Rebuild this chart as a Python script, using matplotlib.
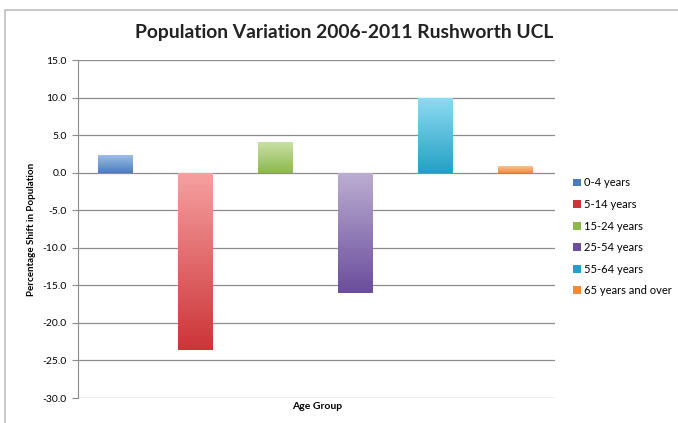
import matplotlib.pyplot as plt
import numpy as np
from matplotlib.colors import LinearSegmentedColormap
from matplotlib.patches import Rectangle, Patch

plt.rcParams['font.family'] = ['Lato', 'DejaVu Sans']

# data
groups = ["0-4 years", "5-14 years", "15-24 years", "25-54 years",
          "55-64 years", "65 years and over"]
shift = [2.3, -23.6, 4.1, -16.0, 10.0, 0.9]
# (light, dark) colour pairs for the gradient fill
light = ["#9dbde6", "#f6a0a0", "#c8e0a4", "#bcaed2", "#8edcf2", "#fcc295"]
dark = ["#4a7ebb", "#cc3538", "#8db84f", "#6a4d9c", "#24a0c4", "#f08a3c"]
yticks = np.arange(-30, 16, 5)

fig = plt.figure(figsize=(6.78, 4.23), dpi=100)
fig.patches.append(Rectangle((0.008, -0.01), 1.1, 0.987, transform=fig.transFigure,
                             fill=False, edgecolor="#bfbfbf", linewidth=1.2))
ax = fig.add_axes([0.115, 0.059, 0.704, 0.799])

x = np.arange(len(groups))
bars = ax.bar(x, shift, width=0.43, color="none", edgecolor="none", zorder=3)

# gradient fill clipped to each bar
for b, c0, c1 in zip(bars, light, dark):
    cmap = LinearSegmentedColormap.from_list("g", [c1, c0])
    grad = np.linspace(0, 1, 100).reshape(-1, 1)
    x0, y0 = b.get_x(), b.get_y()
    w, h = b.get_width(), b.get_height()
    ylo, yhi = min(y0, y0 + h), max(y0, y0 + h)
    im = ax.imshow(grad, extent=[x0, x0 + w, ylo, yhi], origin="lower",
                   cmap=cmap, aspect="auto", zorder=3)
    im.set_clip_path(b)

ax.set_xlim(-0.46, 5.5)
ax.set_ylim(-30, 15)
ax.set_yticks(yticks)
ax.set_yticklabels([f"{v:.1f}" for v in yticks], fontsize=7.5)
ax.set_xticks([])
ax.yaxis.grid(True, color="#8c8c8c", linewidth=0.9)
ax.set_axisbelow(True)
for s in ["top", "right", "bottom"]:
    ax.spines[s].set_visible(False)
ax.spines["left"].set_color("#8c8c8c")
ax.tick_params(axis="y", length=4, color="#8c8c8c", pad=4)

ax.set_ylabel("Percentage Shift in Population", fontsize=7, fontweight="bold", labelpad=5)
ax.set_xlabel("Age Group", fontsize=7.5, fontweight="bold", labelpad=3)
fig.text(0.507, 0.922, "Population Variation 2006-2011 Rushworth UCL",
         ha="center", va="center", fontsize=13.9, fontweight="bold", color="#222222")

handles = [Patch(facecolor=d, edgecolor="none") for d in dark]
fig.legend(handles, groups, loc="center left", bbox_to_anchor=(0.83, 0.44),
           frameon=False, fontsize=8, handlelength=0.7, handleheight=0.7,
           handletextpad=0.3, labelspacing=0.95)

fig.savefig("out.png", dpi=100)
